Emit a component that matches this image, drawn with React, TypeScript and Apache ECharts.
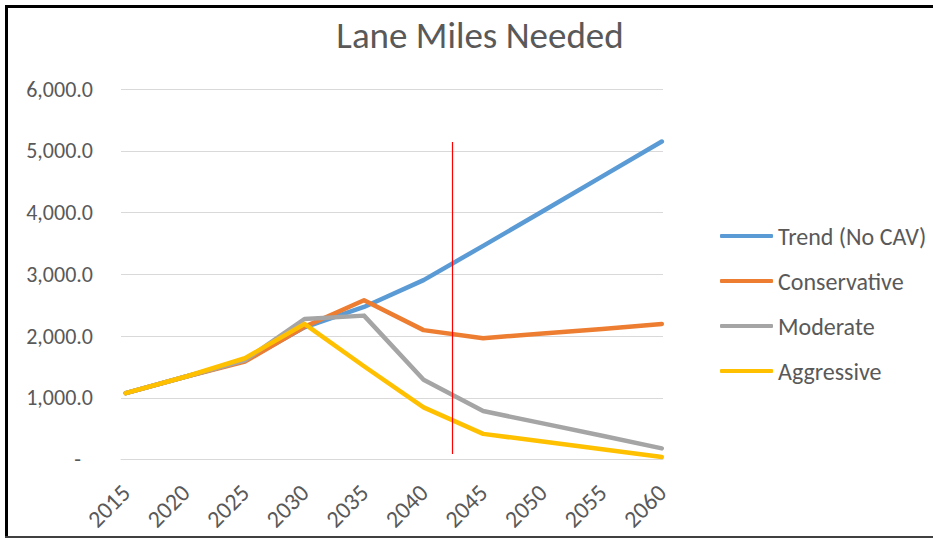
import React, { useEffect, useRef } from "react";
import * as echarts from "echarts";

const years = [2015, 2020, 2025, 2030, 2035, 2040, 2045, 2050, 2055, 2060];
const trend = [1075, 1340, 1600, 2140, 2470, 2905, 3460, 4020, 4585, 5150];
const conservative = [1075, 1340, 1585, 2150, 2580, 2095, 1965, 2040, 2115, 2195];
const moderate = [1075, 1340, 1605, 2275, 2330, 1290, 785, 585, 385, 180];
const aggressive = [1075, 1340, 1640, 2195, 1510, 845, 415, 290, 165, 40];
const yTicks = [0, 1000, 2000, 3000, 4000, 5000, 6000];
const cavLineYear = 2042.43;
const cavLineRange = [90, 5140];

const FONT = "Calibri, Carlito, Lato, sans-serif";
const TXT = "#595959";

export default function App() {
  const ref = useRef<HTMLDivElement>(null);
  useEffect(() => {
    if (!ref.current) return;
    const chart = echarts.init(ref.current, undefined, { renderer: "svg" });
    const mk = (name: string, vals: number[], color: string, extra: any = {}) => ({
      name,
      type: "line",
      data: years.map((y, i) => [y, vals[i]]),
      symbol: "none",
      lineStyle: { color, width: 4.5, cap: "round", join: "round" },
      itemStyle: { color },
      z: 2,
      ...extra,
    });
    chart.setOption({
      animation: false,
      backgroundColor: "#ffffff",
      textStyle: { fontFamily: FONT },
      title: {
        text: "Lane Miles Needed",
        left: 475,
        top: 12,
        textAlign: "center",
        textStyle: { fontFamily: FONT, fontSize: 37, fontWeight: "normal", color: TXT },
      },
      grid: { left: 121, right: 270, top: 89, bottom: 538 - 459.5 },
      legend: {
        orient: "vertical",
        left: 715,
        top: 219,
        itemWidth: 53,
        itemHeight: 4,
        itemGap: 21,
        icon: "roundRect",
        textStyle: { fontFamily: FONT, fontSize: 24, color: TXT, lineHeight: 24 },
        data: ["Trend (No CAV)", "Conservative", "Moderate", "Aggressive"],
      },
      xAxis: {
        type: "value",
        min: 2014.6,
        max: 2060.1,
        axisLine: { show: true, lineStyle: { color: "#D9D9D9", width: 1 } },
        axisTick: { show: false },
        splitLine: { show: false },
        axisLabel: {
          show: true,
          customValues: years,
          rotate: 45,
          margin: 29,
          fontFamily: FONT,
          fontSize: 24,
          color: TXT,
          formatter: (v: number) => String(v),
        },
      },
      yAxis: {
        type: "value",
        min: yTicks[0],
        max: yTicks[yTicks.length - 1],
        interval: 1000,
        axisLine: { show: false },
        axisTick: { show: false },
        splitLine: { lineStyle: { color: "#D9D9D9", width: 1 } },
        axisLabel: {
          margin: 28,
          fontFamily: FONT,
          fontSize: 22,
          color: TXT,
          formatter: (v: number) =>
            v === 0
              ? "{d|-}"
              : v.toLocaleString("en-US", { minimumFractionDigits: 1, maximumFractionDigits: 1 }),
          rich: { d: { fontFamily: FONT, fontSize: 22, color: TXT, padding: [0, 12, 0, 0] } },
        },
      },
      series: [
        mk("Trend (No CAV)", trend, "#5B9BD5", {
          markLine: {
            silent: true,
            symbol: "none",
            label: { show: false },
            lineStyle: { color: "#FF0000", width: 1.2, type: "solid", opacity: 1 },
            data: [[{ coord: [cavLineYear, cavLineRange[0]] }, { coord: [cavLineYear, cavLineRange[1]] }]],
          },
        }),
        mk("Conservative", conservative, "#ED7D31"),
        mk("Moderate", moderate, "#A5A5A5"),
        mk("Aggressive", aggressive, "#FFC000"),
      ],
      graphic: [
        { type: "rect", shape: { x: 5, y: 5, width: 928, height: 3 }, style: { fill: "#000" }, silent: true },
        { type: "rect", shape: { x: 5, y: 5, width: 3, height: 533 }, style: { fill: "#000" }, silent: true },
        { type: "rect", shape: { x: 5, y: 536, width: 928, height: 2 }, style: { fill: "#404040" }, silent: true },
      ],
    });
    return () => chart.dispose();
  }, []);
  return (
    <div
      ref={ref}
      style={{ position: "absolute", left: 0, top: 0, width: 933, height: 538, background: "#fff" }}
    />
  );
}
